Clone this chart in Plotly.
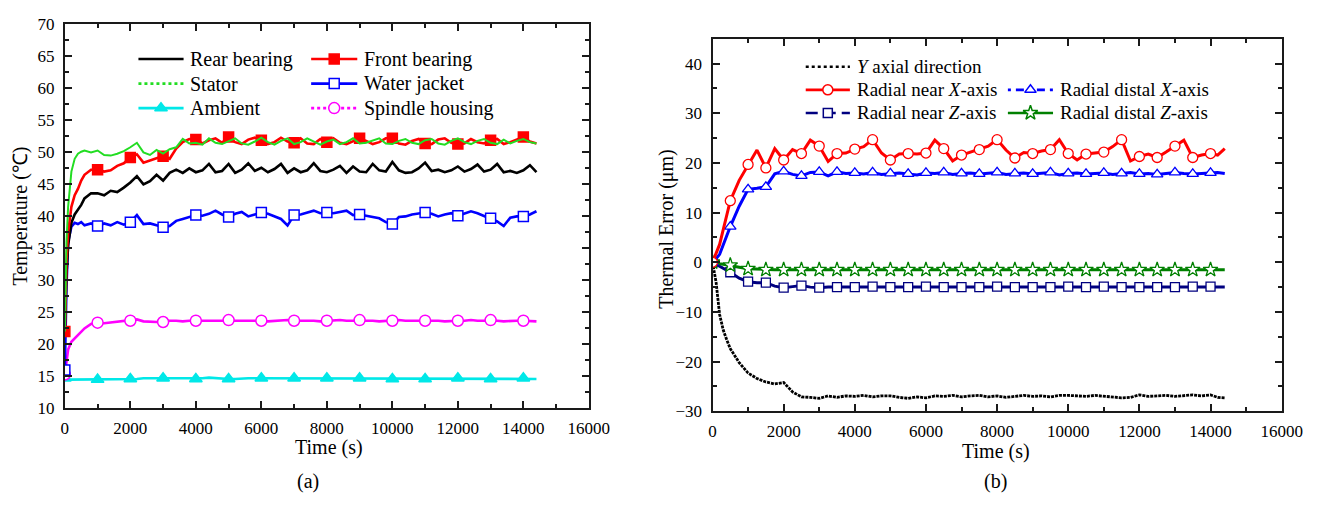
import plotly.graph_objects as go

W, H = 1338, 505
SERIF = "Liberation Serif, serif"

# ---------------- Panel (a): temperatures (deg C) ----------------
T_A = [0, 50, 100, 200, 300, 400, 500, 600, 800] + list(range(1000, 14401, 200))

REAR_BEARING = [
    22.0, 31.0, 35.5, 39.0, 40.3, 41.0, 41.8, 42.8, 43.6,
    43.6, 43.3, 44.0, 43.8, 44.5, 45.3, 46.3, 45.0, 45.5, 46.5,
    45.6, 46.8, 47.3, 46.8, 47.5, 46.9, 47.2, 48.2, 46.9, 47.1,
    48.2, 46.8, 47.3, 48.3, 47.1, 47.6, 46.9, 47.4, 48.2, 46.8,
    47.5, 46.9, 47.2, 48.3, 47.1, 46.9, 47.3, 47.9, 46.8, 47.8,
    47.0, 46.9, 48.2, 47.2, 47.0, 48.5, 47.2, 46.8, 46.9, 47.5,
    48.4, 47.1, 47.3, 46.9, 47.2, 47.8, 47.0, 47.4, 48.1, 47.0,
    47.3, 48.2, 46.9, 47.1, 46.8, 47.2, 48.0, 46.9,
]
FRONT_BEARING = [
    22.0, 33.0, 37.5, 41.5, 43.3, 44.3, 45.6, 46.5, 47.3,
    47.3, 47.0, 47.2, 47.9, 48.3, 49.2, 49.7, 48.4, 48.8, 49.1,
    49.4, 49.0, 50.6, 51.6, 52.1, 52.0, 51.4, 51.9, 52.2, 51.5,
    52.4, 51.6, 51.3, 52.0, 52.3, 51.9, 51.3, 51.6, 52.3, 51.7,
    51.5, 52.2, 51.4, 51.3, 52.1, 51.6, 52.2, 51.5, 51.3, 51.7,
    52.2, 51.8, 51.3, 51.6, 52.2, 52.2, 51.4, 51.2, 51.8, 52.1,
    51.4, 51.3, 52.0, 52.2, 51.5, 51.3, 51.4, 52.1, 51.6, 51.4,
    51.9, 52.1, 51.3, 51.6, 52.0, 52.4, 51.7, 51.4,
]
STATOR = [
    22.0, 36.0, 41.5, 47.0, 49.0, 49.8, 50.1, 50.3, 50.0,
    50.3, 49.6, 49.5, 49.8, 50.2, 50.8, 51.5, 50.0, 49.6, 50.4,
    49.8, 50.5, 50.8, 52.1, 51.4, 51.5, 51.2, 52.2, 51.5, 51.3,
    51.8, 52.2, 51.4, 51.2, 51.7, 52.3, 51.6, 51.2, 51.8, 52.2,
    51.3, 51.6, 52.2, 51.7, 51.2, 51.7, 52.0, 51.3, 51.6, 52.2,
    51.4, 51.5, 51.9, 52.2, 51.4, 51.3, 51.8, 52.1, 51.5, 51.3,
    51.9, 52.1, 51.4, 51.2, 51.8, 52.2, 51.6, 51.3, 51.8, 52.1,
    51.5, 51.3, 52.0, 51.4, 51.8, 52.1, 51.6, 51.4,
]
WATER_JACKET = [
    16.0, 29.0, 36.0, 38.4, 39.0, 38.8, 39.1, 38.6, 38.9,
    38.5, 38.9, 38.6, 39.1, 38.7, 39.1, 40.2, 38.8, 38.9, 38.6,
    38.3, 38.5, 39.3, 39.6, 39.9, 40.2, 40.1, 40.4, 40.9, 40.3,
    39.9, 40.4, 40.7, 40.0, 40.3, 40.6, 40.4, 40.0, 39.6, 38.6,
    40.2, 40.3, 40.6, 40.9, 40.5, 40.6, 40.5, 40.7, 40.9, 40.2,
    40.3, 40.1, 39.9, 39.7, 39.1, 38.8, 39.9, 40.0, 40.3, 40.5,
    40.6, 40.4, 40.0, 40.3, 40.5, 40.1, 40.4, 40.8, 40.5, 40.1,
    39.7, 39.2, 38.5, 39.8, 40.0, 40.0, 40.3, 40.8,
]
AMBIENT = [
    14.7, 14.5, 14.5, 14.5, 14.5, 14.5, 14.5, 14.5, 14.5,
    14.5, 14.5, 14.5, 14.6, 14.6, 14.6, 14.6, 14.7, 14.7, 14.7,
    14.7, 14.7, 14.6, 14.6, 14.6, 14.6, 14.7, 14.8, 14.7, 14.6,
    14.6, 14.6, 14.7, 14.7, 14.7, 14.7, 14.7, 14.6, 14.6, 14.7,
    14.7, 14.6, 14.6, 14.7, 14.7, 14.7, 14.7, 14.6, 14.6, 14.7,
    14.7, 14.6, 14.6, 14.7, 14.7, 14.6, 14.6, 14.6, 14.7, 14.7,
    14.6, 14.6, 14.6, 14.7, 14.7, 14.7, 14.6, 14.6, 14.6, 14.6,
    14.6, 14.6, 14.7, 14.7, 14.6, 14.7, 14.6, 14.6,
]
SPINDLE_HOUSING = [
    15.3, 17.0, 19.2, 20.4, 20.9, 21.4, 21.9, 22.5, 23.2,
    23.4, 23.3, 23.4, 23.5, 23.6, 23.7, 23.9, 23.6, 23.5, 23.5,
    23.5, 23.7, 23.7, 23.6, 23.7, 23.7, 23.8, 23.7, 23.7, 23.8,
    23.8, 23.7, 23.7, 23.8, 23.7, 23.7, 23.6, 23.7, 23.7, 23.8,
    23.7, 23.7, 23.8, 23.7, 23.6, 23.7, 23.7, 23.8, 23.7, 23.7,
    23.8, 23.7, 23.7, 23.6, 23.7, 23.7, 23.8, 23.7, 23.7, 23.7,
    23.7, 23.8, 23.7, 23.6, 23.7, 23.7, 23.7, 23.8, 23.7, 23.7,
    23.8, 23.7, 23.6, 23.7, 23.7, 23.7, 23.6, 23.6,
]

# ---------------- Panel (b): thermal errors (um) ----------------
T_B = [0, 50, 100, 200, 300, 400] + list(range(500, 14001, 250)) + [14200, 14400]

Y_AXIAL = [
    0.0, -1.8, -4.0, -10.5, -13.6, -15.6,
    -17.4, -20.2, -22.3, -23.4, -24.1, -24.5, -24.2, -26.1, -27.1, -27.2,
    -27.4, -26.9, -27.2, -26.9, -27.0, -26.8, -27.1, -26.9, -26.9, -27.2,
    -27.4, -27.1, -27.3, -26.9, -27.0, -26.8, -27.1, -26.9, -26.8, -27.1,
    -26.9, -27.2, -27.0, -26.8, -27.0, -26.9, -27.1, -26.8, -26.8, -26.9,
    -27.0, -26.8, -27.0, -27.1, -27.3, -27.2, -26.7, -27.0, -26.9, -26.8,
    -27.0, -26.8, -26.7, -26.9, -26.7, -27.2, -27.3,
]
NEAR_X = [
    0.0, 0.8, 1.8, 3.6, 6.5, 10.0,
    12.4, 16.5, 19.7, 22.6, 19.0, 22.9, 20.6, 22.7, 21.9, 24.6,
    23.4, 20.3, 21.9, 22.0, 22.8, 23.3, 24.7, 22.0, 20.6, 21.8,
    21.9, 21.8, 22.0, 24.6, 22.9, 20.4, 21.6, 22.2, 22.7, 23.4,
    24.7, 22.6, 21.0, 22.1, 21.9, 22.4, 22.7, 24.7, 21.9, 20.6,
    21.8, 22.0, 22.2, 23.3, 24.7, 20.4, 21.3, 21.8, 21.1, 22.2,
    23.4, 24.6, 21.1, 21.6, 21.9, 21.6, 22.9,
]
DISTAL_X = [
    0.0, 0.3, 0.7, 1.6, 3.6, 5.6,
    7.2, 11.3, 14.7, 14.9, 15.2, 17.8, 18.3, 17.7, 17.4, 18.1,
    18.2, 17.4, 18.2, 17.9, 18.0, 17.8, 18.1, 17.7, 17.9, 18.0,
    17.8, 17.6, 18.0, 17.9, 18.1, 17.7, 17.9, 18.0, 17.8, 17.9,
    18.1, 17.7, 17.9, 18.0, 17.8, 17.9, 18.1, 17.6, 17.9, 18.0,
    17.8, 17.9, 18.0, 17.7, 17.9, 18.1, 17.8, 17.9, 17.7, 17.9,
    18.1, 17.9, 17.8, 17.9, 18.0, 18.1, 17.9,
]
NEAR_Z = [
    0.0, -0.2, -0.5, -0.9, -1.3, -1.7,
    -2.0, -3.2, -3.9, -4.1, -4.1, -4.8, -5.1, -4.9, -4.7, -5.0,
    -5.1, -5.0, -5.0, -4.9, -5.0, -5.0, -4.9, -5.0, -5.0, -4.9,
    -5.0, -5.0, -4.9, -5.0, -5.0, -4.9, -5.0, -5.0, -5.0, -4.9,
    -4.9, -5.0, -5.0, -5.0, -5.0, -4.9, -5.0, -5.0, -4.9, -5.0,
    -5.0, -5.0, -4.9, -5.0, -5.0, -4.9, -5.0, -5.0, -5.0, -4.9,
    -5.0, -5.0, -4.9, -5.0, -4.9, -5.0, -5.0,
]
DISTAL_Z = [
    0.0, -0.1, -0.2, -0.3, -0.4, -0.5,
    -0.6, -1.0, -1.3, -1.4, -1.5, -1.5, -1.5, -1.5, -1.5, -1.5,
    -1.5, -1.5, -1.5, -1.4, -1.5, -1.5, -1.5, -1.5, -1.5, -1.5,
    -1.5, -1.5, -1.5, -1.5, -1.5, -1.5, -1.5, -1.5, -1.5, -1.5,
    -1.5, -1.5, -1.5, -1.5, -1.5, -1.5, -1.5, -1.5, -1.5, -1.5,
    -1.5, -1.5, -1.5, -1.5, -1.5, -1.5, -1.5, -1.5, -1.5, -1.5,
    -1.5, -1.5, -1.5, -1.5, -1.5, -1.5, -1.5,
]

# ---------------- styles ----------------
RED, BLACK, LIME, BLUE = "#ff0000", "#000000", "#22dd22", "#0000ff"
CYAN, MAGENTA, NAVY, GREEN = "#00e8e8", "#ff00ff", "#000080", "#008000"

SERIES_A = [
    # name, values, color, plot dash, legend dash, marker symbol, marker fill, size
    ("Ambient", AMBIENT, CYAN, "solid", "solid", "triangle-up", CYAN, 11),
    ("Spindle housing", SPINDLE_HOUSING, MAGENTA, "solid", "dot", "circle", "white", 11),
    ("Water jacket", WATER_JACKET, BLUE, "solid", "solid", "square", "white", 10),
    ("Rear bearing", REAR_BEARING, BLACK, "solid", "solid", None, None, 0),
    ("Front bearing", FRONT_BEARING, RED, "solid", "solid", "square", RED, 10),
    ("Stator", STATOR, LIME, "solid", "dot", None, None, 0),
]
SERIES_B = [
    ("<i>Y</i> axial direction", Y_AXIAL, BLACK, "3px,1px", "dot", None, None, 0),
    ("Radial near <i>Z</i>-axis", NEAR_Z, NAVY, "solid", "12px,6px", "square", "white", 9),
    ("Radial distal <i>Z</i>-axis", DISTAL_Z, GREEN, "solid", "solid", "star", "white", 11),
    ("Radial distal <i>X</i>-axis", DISTAL_X, BLUE, "solid", "3px,5px,8px,5px", "triangle-up", "white", 10),
    ("Radial near <i>X</i>-axis", NEAR_X, RED, "solid", "solid", "circle", "white", 10),
]


def marked(t, v, step):
    pts = [(ti, vi) for ti, vi in zip(t, v) if ti % step == 0]
    return [p[0] for p in pts], [p[1] for p in pts]


fig = go.Figure()

for name, vals, col, dash, _, sym, fill, size in SERIES_A:
    fig.add_trace(go.Scatter(x=T_A, y=vals, mode="lines", xaxis="x", yaxis="y",
                             line=dict(color=col, width=2.6 if col != LIME else 2, dash=dash),
                             showlegend=False, hoverinfo="skip"))
    if sym:
        mx, my = marked(T_A, vals, 1000)
        fig.add_trace(go.Scatter(x=mx, y=my, mode="markers", xaxis="x", yaxis="y",
                                 marker=dict(symbol=sym, size=size, color=fill,
                                             line=dict(color=col, width=1.5)),
                                 showlegend=False, hoverinfo="skip"))

for name, vals, col, dash, _, sym, fill, size in SERIES_B:
    fig.add_trace(go.Scatter(x=T_B, y=vals, mode="lines", xaxis="x2", yaxis="y2",
                             line=dict(color=col, width=3 if dash == "solid" else 2.8, dash=dash),
                             showlegend=False, hoverinfo="skip"))
    if sym:
        mx, my = marked(T_B, vals, 500)
        fig.add_trace(go.Scatter(x=mx, y=my, mode="markers", xaxis="x2", yaxis="y2",
                                 marker=dict(symbol=sym, size=size, color=fill,
                                             line=dict(color=col, width=1.3)),
                                 showlegend=False, hoverinfo="skip"))

# ---------------- hand-built legends (pixel overlay axes) ----------------
LEG_A = [  # name, column, row
    ("Rear bearing", 0, 0), ("Front bearing", 1, 0),
    ("Stator", 0, 1), ("Water jacket", 1, 1),
    ("Ambient", 0, 2), ("Spindle housing", 1, 2),
]
LEG_B = [
    ("<i>Y</i> axial direction", 0, 0),
    ("Radial near <i>X</i>-axis", 0, 1), ("Radial distal <i>X</i>-axis", 1, 1),
    ("Radial near <i>Z</i>-axis", 0, 2), ("Radial distal <i>Z</i>-axis", 1, 2),
]
annotations = []


def add_legend(entries, styles, cols_x, rows_y, font_size):
    lookup = {s[0]: s for s in styles}
    for name, c, r in entries:
        _, _, col, _, ldash, sym, fill, size = lookup[name]
        x0, x1 = cols_x[c]
        y = rows_y[r]
        fig.add_trace(go.Scatter(x=[x0, x1], y=[y, y], mode="lines", xaxis="x3", yaxis="y3",
                                 line=dict(color=col, width=2.6, dash=ldash),
                                 showlegend=False, hoverinfo="skip"))
        if sym:
            fig.add_trace(go.Scatter(x=[(x0 + x1) / 2], y=[y], mode="markers", xaxis="x3", yaxis="y3",
                                     marker=dict(symbol=sym, size=size, color=fill,
                                                 line=dict(color=col, width=1.5)),
                                     showlegend=False, hoverinfo="skip"))
        annotations.append(dict(text=name, x=(x1 + 5) / W, y=1 - y / H, xref="paper", yref="paper",
                                xanchor="left", yanchor="middle", showarrow=False,
                                font=dict(family=SERIF, size=font_size, color="black")))


add_legend(LEG_A, SERIES_A, [(137, 183), (313, 360)], [52, 77.5, 103], 20)
add_legend(LEG_B, SERIES_B, [(817, 862), (1023, 1069)], [60, 84, 108], 19)


def label(text, px, py, size=20, angle=0):
    annotations.append(dict(text=text, x=px / W, y=1 - py / H, xref="paper", yref="paper",
                            xanchor="center", yanchor="middle", showarrow=False, textangle=angle,
                            font=dict(family=SERIF, size=size, color="black")))


label("Temperature (\u2103)", 17, 215, angle=-90)
label("Time (s)", 331, 456)
label("(a)", 310, 491)
label("Thermal Error (\u03bcm)", 675, 228, angle=-90)
label("Time (s)", 1011, 460)
label("(b)", 1010, 491)

AX = dict(showline=True, linewidth=2, linecolor="#1a1a1a", mirror="allticks",
          ticks="inside", ticklen=7, tickwidth=1.5, tickcolor="#1a1a1a",
          showgrid=False, zeroline=False, tickformat="d",
          tickfont=dict(family=SERIF, size=17, color="black"))


def axis(domain, rng, dtick, minor, anchor, standoff):
    return dict(AX, domain=domain, range=rng, dtick=dtick, tick0=0, anchor=anchor,
                ticklabelstandoff=standoff,
                minor=dict(dtick=minor, tick0=0, ticks="inside", ticklen=4, tickwidth=1.5,
                           tickcolor="#1a1a1a", showgrid=False))


fig.update_layout(
    width=W, height=H, margin=dict(l=0, r=0, t=0, b=0),
    paper_bgcolor="white", plot_bgcolor="rgba(0,0,0,0)", showlegend=False,
    font=dict(family=SERIF, color="black"),
    xaxis=axis([62 / W, 596 / W], [0, 16000], 2000, 1000, "y", 3),
    yaxis=axis([1 - 415 / H, 1 - 16 / H], [10, 70], 5, 2.5, "x", 5),
    xaxis2=axis([722 / W, 1302 / W], [0, 16000], 2000, 1000, "y2", 3),
    yaxis2=axis([1 - 418 / H, 1 - 31 / H], [-30, 45], 10, 5, "x2", 5),
    xaxis3=dict(domain=[0, 1], range=[0, W], visible=False, anchor="y3", fixedrange=True),
    yaxis3=dict(domain=[0, 1], range=[H, 0], visible=False, anchor="x3", fixedrange=True),
    annotations=annotations,
)

fig.write_html("out.html")
